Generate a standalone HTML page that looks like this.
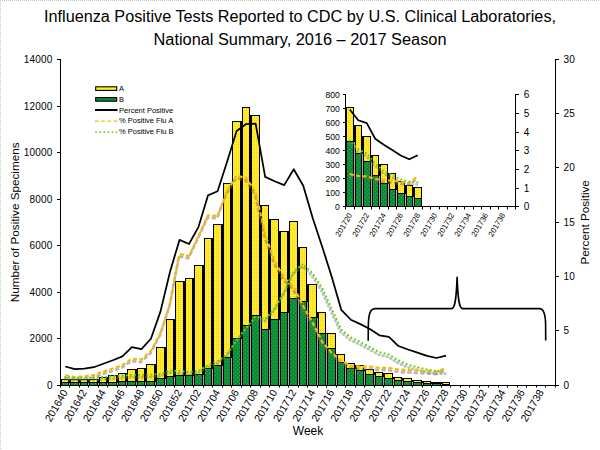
<!DOCTYPE html><html><head><meta charset="utf-8"><style>html,body{margin:0;padding:0;background:#fff;overflow:hidden;}svg{display:block;}text{font-family:"Liberation Sans",sans-serif;fill:#000;}</style></head><body>
<svg width="600" height="450" viewBox="0 0 600 450">
<defs>
<pattern id="py" width="2" height="2" patternUnits="userSpaceOnUse"><rect width="2" height="2" fill="#fff51c"/><rect width="1" height="1" fill="#fbc83e"/><rect x="1" y="1" width="1" height="1" fill="#ffe838"/></pattern>
<pattern id="pg" width="4" height="4" patternUnits="userSpaceOnUse"><rect width="4" height="4" fill="#0d8a36"/><rect x="1" y="1" width="1" height="1" fill="#26c04c"/><rect x="3" y="3" width="1" height="1" fill="#1cb044"/></pattern>
<filter id="sh" x="-10%" y="-10%" width="120%" height="120%"><feGaussianBlur stdDeviation="0.75"/></filter>
</defs>
<rect width="600" height="450" fill="#fff"/>
<line x1="0" y1="0.5" x2="600" y2="0.5" stroke="#c2cac2" stroke-width="1" stroke-dasharray="1 1"/>
<line x1="0.5" y1="0" x2="0.5" y2="450" stroke="#c2cac2" stroke-width="1" stroke-dasharray="1 1"/>
<text x="300" y="21.7" font-size="16" text-anchor="middle" textLength="512" lengthAdjust="spacingAndGlyphs">Influenza Positive Tests Reported to CDC by U.S. Clinical Laboratories,</text>
<text x="300" y="44.6" font-size="16" text-anchor="middle" textLength="293" lengthAdjust="spacingAndGlyphs">National Summary, 2016 – 2017 Season</text>
<g shape-rendering="crispEdges"><rect x="61" y="379" width="8" height="6" fill="#000"/><rect x="62" y="380" width="6" height="2" fill="url(#py)"/><rect x="62" y="383" width="6" height="2" fill="url(#pg)"/><rect x="70" y="379" width="9" height="6" fill="#000"/><rect x="71" y="380" width="7" height="2" fill="url(#py)"/><rect x="71" y="383" width="7" height="2" fill="url(#pg)"/><rect x="69" y="379" width="1" height="6" fill="#000"/><rect x="69" y="383" width="1" height="2" fill="#aaa2ae"/><rect x="80" y="379" width="8" height="6" fill="#000"/><rect x="81" y="380" width="6" height="2" fill="url(#py)"/><rect x="81" y="383" width="6" height="2" fill="url(#pg)"/><rect x="79" y="379" width="1" height="6" fill="#000"/><rect x="79" y="383" width="1" height="2" fill="#aaa2ae"/><rect x="89" y="379" width="9" height="6" fill="#000"/><rect x="90" y="380" width="7" height="2" fill="url(#py)"/><rect x="90" y="383" width="7" height="2" fill="url(#pg)"/><rect x="88" y="379" width="1" height="6" fill="#000"/><rect x="88" y="383" width="1" height="2" fill="#aaa2ae"/><rect x="99" y="377" width="8" height="8" fill="#000"/><rect x="100" y="378" width="6" height="4" fill="url(#py)"/><rect x="100" y="383" width="6" height="2" fill="url(#pg)"/><rect x="98" y="379" width="1" height="6" fill="#000"/><rect x="98" y="383" width="1" height="2" fill="#aaa2ae"/><rect x="108" y="375" width="9" height="10" fill="#000"/><rect x="109" y="376" width="7" height="6" fill="url(#py)"/><rect x="109" y="383" width="7" height="2" fill="url(#pg)"/><rect x="107" y="377" width="1" height="8" fill="#000"/><rect x="107" y="383" width="1" height="2" fill="#aaa2ae"/><rect x="118" y="373" width="8" height="12" fill="#000"/><rect x="119" y="374" width="6" height="7" fill="url(#py)"/><rect x="119" y="382" width="6" height="3" fill="url(#pg)"/><rect x="117" y="375" width="1" height="10" fill="#000"/><rect x="117" y="383" width="1" height="2" fill="#aaa2ae"/><rect x="127" y="369" width="9" height="16" fill="#000"/><rect x="128" y="370" width="7" height="11" fill="url(#py)"/><rect x="128" y="382" width="7" height="3" fill="url(#pg)"/><rect x="126" y="373" width="1" height="12" fill="#000"/><rect x="126" y="382" width="1" height="3" fill="#aaa2ae"/><rect x="137" y="368" width="8" height="17" fill="#000"/><rect x="138" y="369" width="6" height="12" fill="url(#py)"/><rect x="138" y="382" width="6" height="3" fill="url(#pg)"/><rect x="136" y="369" width="1" height="16" fill="#000"/><rect x="136" y="382" width="1" height="3" fill="#aaa2ae"/><rect x="146" y="364" width="9" height="21" fill="#000"/><rect x="147" y="365" width="7" height="16" fill="url(#py)"/><rect x="147" y="382" width="7" height="3" fill="url(#pg)"/><rect x="145" y="368" width="1" height="17" fill="#000"/><rect x="145" y="382" width="1" height="3" fill="#aaa2ae"/><rect x="156" y="347" width="9" height="38" fill="#000"/><rect x="157" y="348" width="7" height="30" fill="url(#py)"/><rect x="157" y="379" width="7" height="6" fill="url(#pg)"/><rect x="155" y="364" width="1" height="21" fill="#000"/><rect x="155" y="382" width="1" height="3" fill="#aaa2ae"/><rect x="166" y="319" width="8" height="66" fill="#000"/><rect x="167" y="320" width="6" height="56" fill="url(#py)"/><rect x="167" y="377" width="6" height="8" fill="url(#pg)"/><rect x="165" y="347" width="1" height="38" fill="#000"/><rect x="165" y="379" width="1" height="6" fill="#aaa2ae"/><rect x="175" y="281" width="9" height="104" fill="#000"/><rect x="176" y="282" width="7" height="93" fill="url(#py)"/><rect x="176" y="376" width="7" height="9" fill="url(#pg)"/><rect x="174" y="319" width="1" height="66" fill="#000"/><rect x="174" y="377" width="1" height="8" fill="#aaa2ae"/><rect x="185" y="278" width="8" height="107" fill="#000"/><rect x="186" y="279" width="6" height="96" fill="url(#py)"/><rect x="186" y="376" width="6" height="9" fill="url(#pg)"/><rect x="184" y="281" width="1" height="104" fill="#000"/><rect x="184" y="376" width="1" height="9" fill="#aaa2ae"/><rect x="194" y="265" width="9" height="120" fill="#000"/><rect x="195" y="266" width="7" height="108" fill="url(#py)"/><rect x="195" y="375" width="7" height="10" fill="url(#pg)"/><rect x="193" y="278" width="1" height="107" fill="#000"/><rect x="193" y="376" width="1" height="9" fill="#aaa2ae"/><rect x="204" y="238" width="8" height="147" fill="#000"/><rect x="205" y="239" width="6" height="129" fill="url(#py)"/><rect x="205" y="369" width="6" height="16" fill="url(#pg)"/><rect x="203" y="265" width="1" height="120" fill="#000"/><rect x="203" y="375" width="1" height="10" fill="#aaa2ae"/><rect x="213" y="224" width="9" height="161" fill="#000"/><rect x="214" y="225" width="7" height="140" fill="url(#py)"/><rect x="214" y="366" width="7" height="19" fill="url(#pg)"/><rect x="212" y="238" width="1" height="147" fill="#000"/><rect x="212" y="369" width="1" height="16" fill="#aaa2ae"/><rect x="223" y="183" width="8" height="202" fill="#000"/><rect x="224" y="184" width="6" height="173" fill="url(#py)"/><rect x="224" y="358" width="6" height="27" fill="url(#pg)"/><rect x="222" y="224" width="1" height="161" fill="#000"/><rect x="222" y="366" width="1" height="19" fill="#aaa2ae"/><rect x="232" y="121" width="9" height="264" fill="#000"/><rect x="233" y="122" width="7" height="216" fill="url(#py)"/><rect x="233" y="339" width="7" height="46" fill="url(#pg)"/><rect x="231" y="183" width="1" height="202" fill="#000"/><rect x="231" y="358" width="1" height="27" fill="#aaa2ae"/><rect x="242" y="107" width="8" height="278" fill="#000"/><rect x="243" y="108" width="6" height="217" fill="url(#py)"/><rect x="243" y="326" width="6" height="59" fill="url(#pg)"/><rect x="241" y="121" width="1" height="264" fill="#000"/><rect x="241" y="339" width="1" height="46" fill="#aaa2ae"/><rect x="251" y="115" width="9" height="270" fill="#000"/><rect x="252" y="116" width="7" height="199" fill="url(#py)"/><rect x="252" y="316" width="7" height="69" fill="url(#pg)"/><rect x="250" y="115" width="1" height="270" fill="#000"/><rect x="250" y="326" width="1" height="59" fill="#aaa2ae"/><rect x="261" y="205" width="8" height="180" fill="#000"/><rect x="262" y="206" width="6" height="123" fill="url(#py)"/><rect x="262" y="330" width="6" height="55" fill="url(#pg)"/><rect x="260" y="205" width="1" height="180" fill="#000"/><rect x="260" y="316" width="1" height="69" fill="#aaa2ae"/><rect x="270" y="219" width="9" height="166" fill="#000"/><rect x="271" y="220" width="7" height="99" fill="url(#py)"/><rect x="271" y="320" width="7" height="65" fill="url(#pg)"/><rect x="269" y="219" width="1" height="166" fill="#000"/><rect x="269" y="330" width="1" height="55" fill="#aaa2ae"/><rect x="280" y="231" width="8" height="154" fill="#000"/><rect x="281" y="232" width="6" height="80" fill="url(#py)"/><rect x="281" y="313" width="6" height="72" fill="url(#pg)"/><rect x="279" y="231" width="1" height="154" fill="#000"/><rect x="279" y="320" width="1" height="65" fill="#aaa2ae"/><rect x="289" y="221" width="9" height="164" fill="#000"/><rect x="290" y="222" width="7" height="76" fill="url(#py)"/><rect x="290" y="299" width="7" height="86" fill="url(#pg)"/><rect x="288" y="231" width="1" height="154" fill="#000"/><rect x="288" y="313" width="1" height="72" fill="#aaa2ae"/><rect x="299" y="247" width="8" height="138" fill="#000"/><rect x="300" y="248" width="6" height="53" fill="url(#py)"/><rect x="300" y="302" width="6" height="83" fill="url(#pg)"/><rect x="298" y="247" width="1" height="138" fill="#000"/><rect x="298" y="299" width="1" height="86" fill="#aaa2ae"/><rect x="308" y="284" width="9" height="101" fill="#000"/><rect x="309" y="285" width="7" height="32" fill="url(#py)"/><rect x="309" y="318" width="7" height="67" fill="url(#pg)"/><rect x="307" y="284" width="1" height="101" fill="#000"/><rect x="307" y="302" width="1" height="83" fill="#aaa2ae"/><rect x="318" y="312" width="8" height="73" fill="#000"/><rect x="319" y="313" width="6" height="20" fill="url(#py)"/><rect x="319" y="334" width="6" height="51" fill="url(#pg)"/><rect x="317" y="312" width="1" height="73" fill="#000"/><rect x="317" y="318" width="1" height="67" fill="#aaa2ae"/><rect x="327" y="333" width="9" height="52" fill="#000"/><rect x="328" y="334" width="7" height="14" fill="url(#py)"/><rect x="328" y="349" width="7" height="36" fill="url(#pg)"/><rect x="326" y="333" width="1" height="52" fill="#000"/><rect x="326" y="334" width="1" height="51" fill="#aaa2ae"/><rect x="337" y="354" width="8" height="31" fill="#000"/><rect x="338" y="355" width="6" height="7" fill="url(#py)"/><rect x="338" y="363" width="6" height="22" fill="url(#pg)"/><rect x="336" y="354" width="1" height="31" fill="#000"/><rect x="336" y="355" width="1" height="30" fill="#aaa2ae"/><rect x="346" y="363" width="9" height="22" fill="#000"/><rect x="347" y="364" width="7" height="4" fill="url(#py)"/><rect x="347" y="369" width="7" height="16" fill="url(#pg)"/><rect x="345" y="363" width="1" height="22" fill="#000"/><rect x="345" y="364" width="1" height="21" fill="#aaa2ae"/><rect x="356" y="365" width="8" height="20" fill="#000"/><rect x="357" y="366" width="6" height="4" fill="url(#py)"/><rect x="357" y="371" width="6" height="14" fill="url(#pg)"/><rect x="355" y="365" width="1" height="20" fill="#000"/><rect x="355" y="369" width="1" height="16" fill="#aaa2ae"/><rect x="365" y="369" width="9" height="16" fill="#000"/><rect x="366" y="370" width="7" height="4" fill="url(#py)"/><rect x="366" y="375" width="7" height="10" fill="url(#pg)"/><rect x="364" y="369" width="1" height="16" fill="#000"/><rect x="364" y="371" width="1" height="14" fill="#aaa2ae"/><rect x="375" y="372" width="8" height="13" fill="#000"/><rect x="376" y="373" width="6" height="3" fill="url(#py)"/><rect x="376" y="377" width="6" height="8" fill="url(#pg)"/><rect x="374" y="372" width="1" height="13" fill="#000"/><rect x="374" y="375" width="1" height="10" fill="#aaa2ae"/><rect x="384" y="373" width="9" height="12" fill="#000"/><rect x="385" y="374" width="7" height="4" fill="url(#py)"/><rect x="385" y="379" width="7" height="6" fill="url(#pg)"/><rect x="383" y="373" width="1" height="12" fill="#000"/><rect x="383" y="377" width="1" height="8" fill="#aaa2ae"/><rect x="394" y="377" width="8" height="8" fill="#000"/><rect x="395" y="378" width="6" height="2" fill="url(#py)"/><rect x="395" y="381" width="6" height="4" fill="url(#pg)"/><rect x="393" y="377" width="1" height="8" fill="#000"/><rect x="393" y="379" width="1" height="6" fill="#aaa2ae"/><rect x="403" y="378" width="9" height="7" fill="#000"/><rect x="404" y="379" width="7" height="2" fill="url(#py)"/><rect x="404" y="382" width="7" height="3" fill="url(#pg)"/><rect x="402" y="378" width="1" height="7" fill="#000"/><rect x="402" y="381" width="1" height="4" fill="#aaa2ae"/><rect x="413" y="380" width="9" height="5" fill="#000"/><rect x="414" y="381" width="7" height="1" fill="url(#py)"/><rect x="414" y="383" width="7" height="2" fill="url(#pg)"/><rect x="412" y="380" width="1" height="5" fill="#000"/><rect x="412" y="382" width="1" height="3" fill="#aaa2ae"/><rect x="423" y="381" width="8" height="4" fill="#000"/><rect x="424" y="382" width="6" height="1" fill="url(#py)"/><rect x="424" y="384" width="6" height="1" fill="url(#pg)"/><rect x="422" y="381" width="1" height="4" fill="#000"/><rect x="422" y="383" width="1" height="2" fill="#aaa2ae"/><rect x="432" y="382" width="9" height="3" fill="#000"/><rect x="433" y="384" width="7" height="1" fill="url(#pg)"/><rect x="431" y="382" width="1" height="3" fill="#000"/><rect x="431" y="384" width="1" height="1" fill="#aaa2ae"/><rect x="442" y="382" width="8" height="3" fill="#000"/><rect x="443" y="383" width="6" height="1" fill="url(#py)"/><rect x="443" y="385" width="6" height="0" fill="url(#pg)"/><rect x="441" y="382" width="1" height="3" fill="#000"/><rect x="441" y="384" width="1" height="1" fill="#aaa2ae"/></g>
<polyline points="65.26,375.18 74.78,377.02 84.30,376.37 93.82,375.18 103.34,371.59 112.86,368.55 122.38,365.18 131.89,358.77 141.41,359.64 150.93,350.94 160.45,333.34 169.97,304.00 179.49,254.01 189.01,255.97 198.53,235.97 208.05,215.33 217.57,215.98 227.09,190.99 236.61,175.77 246.13,177.95 255.64,192.07 265.16,234.45 274.68,261.29 284.20,277.92 293.72,286.94 303.24,306.17 312.76,323.02 322.28,342.03 331.80,352.90 341.32,361.05 350.84,365.61 360.36,366.70 369.88,366.59 379.39,367.79 388.91,367.90 398.43,369.53 407.95,370.07 417.47,370.50 426.99,371.16 436.51,371.70 446.03,367.90" fill="none" stroke="#6c6c7a" stroke-width="2.6" stroke-dasharray="4.2 2.3" transform="translate(-0.6,2.4)" filter="url(#sh)" opacity="0.5"/>
<polyline points="65.26,377.02 74.78,378.00 84.30,377.68 93.82,377.46 103.34,377.02 112.86,376.26 122.38,375.83 131.89,374.74 141.41,374.96 150.93,374.52 160.45,373.98 169.97,370.40 179.49,371.05 189.01,372.03 198.53,370.72 208.05,365.18 217.57,361.38 227.09,354.20 236.61,340.08 246.13,327.91 255.64,316.50 265.16,319.32 274.68,308.35 284.20,292.05 293.72,271.40 303.24,264.01 312.76,273.57 322.28,288.24 331.80,309.00 341.32,329.54 350.84,337.47 360.36,342.03 369.88,347.03 379.39,352.14 388.91,354.53 398.43,360.29 407.95,364.85 417.47,367.24 426.99,369.63 436.51,371.16 446.03,371.37" fill="none" stroke="#727280" stroke-width="2.8" stroke-linecap="round" stroke-dasharray="0.6 3.5" transform="translate(-0.8,2.4)" filter="url(#sh)" opacity="0.45"/>
<polyline points="65.26,366.48 74.78,369.20 84.30,368.55 93.82,367.24 103.34,363.77 112.86,360.29 122.38,356.38 131.89,347.14 141.41,349.21 150.93,338.77 160.45,311.61 169.97,271.94 179.49,239.89 189.01,244.02 198.53,226.85 208.05,195.33 217.57,191.31 227.09,161.65 236.61,131.00 246.13,124.05 255.64,123.61 265.16,176.86 274.68,181.21 284.20,185.12 293.72,169.25 303.24,185.77 312.76,218.15 322.28,246.95 331.80,277.05 341.32,309.98 350.84,319.76 360.36,324.10 369.88,328.99 379.39,335.30 388.91,336.93 398.43,346.05 407.95,349.53 417.47,352.57 426.99,355.83 436.51,358.01 446.03,355.62" fill="none" stroke="#000" stroke-width="1.75" stroke-linejoin="round"/>
<polyline points="65.26,375.18 74.78,377.02 84.30,376.37 93.82,375.18 103.34,371.59 112.86,368.55 122.38,365.18 131.89,358.77 141.41,359.64 150.93,350.94 160.45,333.34 169.97,304.00 179.49,254.01 189.01,255.97 198.53,235.97 208.05,215.33 217.57,215.98 227.09,190.99 236.61,175.77 246.13,177.95 255.64,192.07 265.16,234.45 274.68,261.29 284.20,277.92 293.72,286.94 303.24,306.17 312.76,323.02 322.28,342.03 331.80,352.90 341.32,361.05 350.84,365.61 360.36,366.70 369.88,366.59 379.39,367.79 388.91,367.90 398.43,369.53 407.95,370.07 417.47,370.50 426.99,371.16 436.51,371.70 446.03,367.90" fill="none" stroke="#f7b900" stroke-width="2.2" stroke-dasharray="4.2 2.3"/>
<polyline points="65.26,377.02 74.78,378.00 84.30,377.68 93.82,377.46 103.34,377.02 112.86,376.26 122.38,375.83 131.89,374.74 141.41,374.96 150.93,374.52 160.45,373.98 169.97,370.40 179.49,371.05 189.01,372.03 198.53,370.72 208.05,365.18 217.57,361.38 227.09,354.20 236.61,340.08 246.13,327.91 255.64,316.50 265.16,319.32 274.68,308.35 284.20,292.05 293.72,271.40 303.24,264.01 312.76,273.57 322.28,288.24 331.80,309.00 341.32,329.54 350.84,337.47 360.36,342.03 369.88,347.03 379.39,352.14 388.91,354.53 398.43,360.29 407.95,364.85 417.47,367.24 426.99,369.63 436.51,371.16 446.03,371.37" fill="none" stroke="#5cd80a" stroke-width="2.2" stroke-linecap="round" stroke-dasharray="0.01 4.1"/>
<line x1="60.5" y1="59" x2="60.5" y2="386" stroke="#000" stroke-width="1"/><line x1="555.5" y1="59" x2="555.5" y2="386" stroke="#000" stroke-width="1"/><line x1="60.0" y1="385.5" x2="556.0" y2="385.5" stroke="#000" stroke-width="1.2"/><line x1="57" y1="385.5" x2="60.5" y2="385.5" stroke="#000" stroke-width="1"/><text x="52.7" y="389.1" font-size="10" letter-spacing="0.25" text-anchor="end">0</text><line x1="57" y1="338.5" x2="60.5" y2="338.5" stroke="#000" stroke-width="1"/><text x="52.7" y="342.1" font-size="10" letter-spacing="0.25" text-anchor="end">2000</text><line x1="57" y1="292.5" x2="60.5" y2="292.5" stroke="#000" stroke-width="1"/><text x="52.7" y="296.1" font-size="10" letter-spacing="0.25" text-anchor="end">4000</text><line x1="57" y1="245.5" x2="60.5" y2="245.5" stroke="#000" stroke-width="1"/><text x="52.7" y="249.1" font-size="10" letter-spacing="0.25" text-anchor="end">6000</text><line x1="57" y1="199.5" x2="60.5" y2="199.5" stroke="#000" stroke-width="1"/><text x="52.7" y="203.1" font-size="10" letter-spacing="0.25" text-anchor="end">8000</text><line x1="57" y1="152.5" x2="60.5" y2="152.5" stroke="#000" stroke-width="1"/><text x="52.7" y="156.1" font-size="10" letter-spacing="0.25" text-anchor="end">10000</text><line x1="57" y1="106.5" x2="60.5" y2="106.5" stroke="#000" stroke-width="1"/><text x="52.7" y="110.1" font-size="10" letter-spacing="0.25" text-anchor="end">12000</text><line x1="57" y1="59.5" x2="60.5" y2="59.5" stroke="#000" stroke-width="1"/><text x="52.7" y="63.1" font-size="10" letter-spacing="0.25" text-anchor="end">14000</text><line x1="555.5" y1="385.5" x2="559" y2="385.5" stroke="#000" stroke-width="1"/><text x="563.4" y="389.1" font-size="10" letter-spacing="0.3">0</text><line x1="555.5" y1="330.5" x2="559" y2="330.5" stroke="#000" stroke-width="1"/><text x="563.4" y="334.1" font-size="10" letter-spacing="0.3">5</text><line x1="555.5" y1="276.5" x2="559" y2="276.5" stroke="#000" stroke-width="1"/><text x="563.4" y="280.1" font-size="10" letter-spacing="0.3">10</text><line x1="555.5" y1="222.5" x2="559" y2="222.5" stroke="#000" stroke-width="1"/><text x="563.4" y="226.1" font-size="10" letter-spacing="0.3">15</text><line x1="555.5" y1="167.5" x2="559" y2="167.5" stroke="#000" stroke-width="1"/><text x="563.4" y="171.1" font-size="10" letter-spacing="0.3">20</text><line x1="555.5" y1="113.5" x2="559" y2="113.5" stroke="#000" stroke-width="1"/><text x="563.4" y="117.1" font-size="10" letter-spacing="0.3">25</text><line x1="555.5" y1="59.5" x2="559" y2="59.5" stroke="#000" stroke-width="1"/><text x="563.4" y="63.1" font-size="10" letter-spacing="0.3">30</text><line x1="60.5" y1="385.5" x2="60.5" y2="387.6" stroke="#000" stroke-width="1"/><line x1="69.5" y1="385.5" x2="69.5" y2="387.6" stroke="#000" stroke-width="1"/><line x1="79.5" y1="385.5" x2="79.5" y2="387.6" stroke="#000" stroke-width="1"/><line x1="88.5" y1="385.5" x2="88.5" y2="387.6" stroke="#000" stroke-width="1"/><line x1="98.5" y1="385.5" x2="98.5" y2="387.6" stroke="#000" stroke-width="1"/><line x1="107.5" y1="385.5" x2="107.5" y2="387.6" stroke="#000" stroke-width="1"/><line x1="117.5" y1="385.5" x2="117.5" y2="387.6" stroke="#000" stroke-width="1"/><line x1="126.5" y1="385.5" x2="126.5" y2="387.6" stroke="#000" stroke-width="1"/><line x1="136.5" y1="385.5" x2="136.5" y2="387.6" stroke="#000" stroke-width="1"/><line x1="145.5" y1="385.5" x2="145.5" y2="387.6" stroke="#000" stroke-width="1"/><line x1="155.5" y1="385.5" x2="155.5" y2="387.6" stroke="#000" stroke-width="1"/><line x1="165.5" y1="385.5" x2="165.5" y2="387.6" stroke="#000" stroke-width="1"/><line x1="174.5" y1="385.5" x2="174.5" y2="387.6" stroke="#000" stroke-width="1"/><line x1="184.5" y1="385.5" x2="184.5" y2="387.6" stroke="#000" stroke-width="1"/><line x1="193.5" y1="385.5" x2="193.5" y2="387.6" stroke="#000" stroke-width="1"/><line x1="203.5" y1="385.5" x2="203.5" y2="387.6" stroke="#000" stroke-width="1"/><line x1="212.5" y1="385.5" x2="212.5" y2="387.6" stroke="#000" stroke-width="1"/><line x1="222.5" y1="385.5" x2="222.5" y2="387.6" stroke="#000" stroke-width="1"/><line x1="231.5" y1="385.5" x2="231.5" y2="387.6" stroke="#000" stroke-width="1"/><line x1="241.5" y1="385.5" x2="241.5" y2="387.6" stroke="#000" stroke-width="1"/><line x1="250.5" y1="385.5" x2="250.5" y2="387.6" stroke="#000" stroke-width="1"/><line x1="260.5" y1="385.5" x2="260.5" y2="387.6" stroke="#000" stroke-width="1"/><line x1="269.5" y1="385.5" x2="269.5" y2="387.6" stroke="#000" stroke-width="1"/><line x1="279.5" y1="385.5" x2="279.5" y2="387.6" stroke="#000" stroke-width="1"/><line x1="288.5" y1="385.5" x2="288.5" y2="387.6" stroke="#000" stroke-width="1"/><line x1="298.5" y1="385.5" x2="298.5" y2="387.6" stroke="#000" stroke-width="1"/><line x1="307.5" y1="385.5" x2="307.5" y2="387.6" stroke="#000" stroke-width="1"/><line x1="317.5" y1="385.5" x2="317.5" y2="387.6" stroke="#000" stroke-width="1"/><line x1="326.5" y1="385.5" x2="326.5" y2="387.6" stroke="#000" stroke-width="1"/><line x1="336.5" y1="385.5" x2="336.5" y2="387.6" stroke="#000" stroke-width="1"/><line x1="345.5" y1="385.5" x2="345.5" y2="387.6" stroke="#000" stroke-width="1"/><line x1="355.5" y1="385.5" x2="355.5" y2="387.6" stroke="#000" stroke-width="1"/><line x1="364.5" y1="385.5" x2="364.5" y2="387.6" stroke="#000" stroke-width="1"/><line x1="374.5" y1="385.5" x2="374.5" y2="387.6" stroke="#000" stroke-width="1"/><line x1="383.5" y1="385.5" x2="383.5" y2="387.6" stroke="#000" stroke-width="1"/><line x1="393.5" y1="385.5" x2="393.5" y2="387.6" stroke="#000" stroke-width="1"/><line x1="402.5" y1="385.5" x2="402.5" y2="387.6" stroke="#000" stroke-width="1"/><line x1="412.5" y1="385.5" x2="412.5" y2="387.6" stroke="#000" stroke-width="1"/><line x1="422.5" y1="385.5" x2="422.5" y2="387.6" stroke="#000" stroke-width="1"/><line x1="431.5" y1="385.5" x2="431.5" y2="387.6" stroke="#000" stroke-width="1"/><line x1="441.5" y1="385.5" x2="441.5" y2="387.6" stroke="#000" stroke-width="1"/><line x1="450.5" y1="385.5" x2="450.5" y2="387.6" stroke="#000" stroke-width="1"/><line x1="460.5" y1="385.5" x2="460.5" y2="387.6" stroke="#000" stroke-width="1"/><line x1="469.5" y1="385.5" x2="469.5" y2="387.6" stroke="#000" stroke-width="1"/><line x1="479.5" y1="385.5" x2="479.5" y2="387.6" stroke="#000" stroke-width="1"/><line x1="488.5" y1="385.5" x2="488.5" y2="387.6" stroke="#000" stroke-width="1"/><line x1="498.5" y1="385.5" x2="498.5" y2="387.6" stroke="#000" stroke-width="1"/><line x1="507.5" y1="385.5" x2="507.5" y2="387.6" stroke="#000" stroke-width="1"/><line x1="517.5" y1="385.5" x2="517.5" y2="387.6" stroke="#000" stroke-width="1"/><line x1="526.5" y1="385.5" x2="526.5" y2="387.6" stroke="#000" stroke-width="1"/><line x1="536.5" y1="385.5" x2="536.5" y2="387.6" stroke="#000" stroke-width="1"/><line x1="545.5" y1="385.5" x2="545.5" y2="387.6" stroke="#000" stroke-width="1"/><line x1="555.5" y1="385.5" x2="555.5" y2="387.6" stroke="#000" stroke-width="1"/><text font-size="10.5" text-anchor="end" transform="translate(68.16,392.2) rotate(-60)">201640</text><text font-size="10.5" text-anchor="end" transform="translate(87.20,392.2) rotate(-60)">201642</text><text font-size="10.5" text-anchor="end" transform="translate(106.24,392.2) rotate(-60)">201644</text><text font-size="10.5" text-anchor="end" transform="translate(125.28,392.2) rotate(-60)">201646</text><text font-size="10.5" text-anchor="end" transform="translate(144.31,392.2) rotate(-60)">201648</text><text font-size="10.5" text-anchor="end" transform="translate(163.35,392.2) rotate(-60)">201650</text><text font-size="10.5" text-anchor="end" transform="translate(182.39,392.2) rotate(-60)">201652</text><text font-size="10.5" text-anchor="end" transform="translate(201.43,392.2) rotate(-60)">201702</text><text font-size="10.5" text-anchor="end" transform="translate(220.47,392.2) rotate(-60)">201704</text><text font-size="10.5" text-anchor="end" transform="translate(239.51,392.2) rotate(-60)">201706</text><text font-size="10.5" text-anchor="end" transform="translate(258.54,392.2) rotate(-60)">201708</text><text font-size="10.5" text-anchor="end" transform="translate(277.58,392.2) rotate(-60)">201710</text><text font-size="10.5" text-anchor="end" transform="translate(296.62,392.2) rotate(-60)">201712</text><text font-size="10.5" text-anchor="end" transform="translate(315.66,392.2) rotate(-60)">201714</text><text font-size="10.5" text-anchor="end" transform="translate(334.70,392.2) rotate(-60)">201716</text><text font-size="10.5" text-anchor="end" transform="translate(353.74,392.2) rotate(-60)">201718</text><text font-size="10.5" text-anchor="end" transform="translate(372.77,392.2) rotate(-60)">201720</text><text font-size="10.5" text-anchor="end" transform="translate(391.81,392.2) rotate(-60)">201722</text><text font-size="10.5" text-anchor="end" transform="translate(410.85,392.2) rotate(-60)">201724</text><text font-size="10.5" text-anchor="end" transform="translate(429.89,392.2) rotate(-60)">201726</text><text font-size="10.5" text-anchor="end" transform="translate(448.93,392.2) rotate(-60)">201728</text><text font-size="10.5" text-anchor="end" transform="translate(467.97,392.2) rotate(-60)">201730</text><text font-size="10.5" text-anchor="end" transform="translate(487.01,392.2) rotate(-60)">201732</text><text font-size="10.5" text-anchor="end" transform="translate(506.04,392.2) rotate(-60)">201734</text><text font-size="10.5" text-anchor="end" transform="translate(525.08,392.2) rotate(-60)">201736</text><text font-size="10.5" text-anchor="end" transform="translate(544.12,392.2) rotate(-60)">201738</text>
<text font-size="11.7" text-anchor="middle" transform="translate(18.9,222.4) rotate(-90)">Number of Positive Specimens</text>
<text font-size="11.7" text-anchor="middle" transform="translate(588.8,222.4) rotate(-90)">Percent Positive</text>
<text x="308" y="435" font-size="12" text-anchor="middle">Week</text>
<rect x="95.7" y="86.8" width="21" height="3.6" fill="#fff21a" stroke="#000" stroke-width="1.1"/><rect x="95.7" y="97.6" width="21" height="3.6" fill="#108a38" stroke="#000" stroke-width="1.1"/><line x1="95" y1="110" x2="117.5" y2="110" stroke="#000" stroke-width="2"/><line x1="94.8" y1="121.2" x2="118" y2="121.2" stroke="#f7b900" stroke-width="1.3" stroke-dasharray="3.8 2.5"/><line x1="96" y1="132.2" x2="117.5" y2="132.2" stroke="#5cd80a" stroke-width="1.8" stroke-linecap="round" stroke-dasharray="0.01 4.1"/><text x="119" y="90.7" font-size="7.5">A</text><text x="119" y="101.5" font-size="7.5">B</text><text x="119" y="112.6" font-size="7.5">Percent Positive</text><text x="119" y="123.4" font-size="7.5">% Positive Flu A</text><text x="119" y="134.3" font-size="7.5">% Positive Flu B</text>
<g shape-rendering="crispEdges"><rect x="346" y="107" width="8" height="99" fill="#000"/><rect x="347" y="108" width="6" height="33" fill="url(#py)"/><rect x="347" y="142" width="6" height="64" fill="url(#pg)"/><rect x="355" y="125" width="7" height="81" fill="#000"/><rect x="356" y="126" width="5" height="27" fill="url(#py)"/><rect x="356" y="154" width="5" height="52" fill="url(#pg)"/><rect x="354" y="125" width="1" height="81" fill="#000"/><rect x="354" y="142" width="1" height="64" fill="#b0a8b4"/><rect x="363" y="136" width="8" height="70" fill="#000"/><rect x="364" y="137" width="6" height="24" fill="url(#py)"/><rect x="364" y="162" width="6" height="44" fill="url(#pg)"/><rect x="362" y="136" width="1" height="70" fill="#000"/><rect x="362" y="154" width="1" height="52" fill="#b0a8b4"/><rect x="372" y="155" width="7" height="51" fill="#000"/><rect x="373" y="156" width="5" height="19" fill="url(#py)"/><rect x="373" y="176" width="5" height="30" fill="url(#pg)"/><rect x="371" y="155" width="1" height="51" fill="#000"/><rect x="371" y="162" width="1" height="44" fill="#b0a8b4"/><rect x="380" y="164" width="8" height="42" fill="#000"/><rect x="381" y="165" width="6" height="18" fill="url(#py)"/><rect x="381" y="184" width="6" height="22" fill="url(#pg)"/><rect x="379" y="164" width="1" height="42" fill="#000"/><rect x="379" y="176" width="1" height="30" fill="#b0a8b4"/><rect x="389" y="173" width="7" height="33" fill="#000"/><rect x="390" y="174" width="5" height="15" fill="url(#py)"/><rect x="390" y="190" width="5" height="16" fill="url(#pg)"/><rect x="388" y="173" width="1" height="33" fill="#000"/><rect x="388" y="184" width="1" height="22" fill="#b0a8b4"/><rect x="397" y="181" width="8" height="25" fill="#000"/><rect x="398" y="182" width="6" height="11" fill="url(#py)"/><rect x="398" y="194" width="6" height="12" fill="url(#pg)"/><rect x="396" y="181" width="1" height="25" fill="#000"/><rect x="396" y="190" width="1" height="16" fill="#b0a8b4"/><rect x="406" y="185" width="7" height="21" fill="#000"/><rect x="407" y="186" width="5" height="10" fill="url(#py)"/><rect x="407" y="197" width="5" height="9" fill="url(#pg)"/><rect x="405" y="185" width="1" height="21" fill="#000"/><rect x="405" y="194" width="1" height="12" fill="#b0a8b4"/><rect x="414" y="187" width="8" height="19" fill="#000"/><rect x="415" y="188" width="6" height="10" fill="url(#py)"/><rect x="415" y="199" width="6" height="7" fill="url(#pg)"/><rect x="413" y="187" width="1" height="19" fill="#000"/><rect x="413" y="197" width="1" height="9" fill="#b0a8b4"/></g><polyline points="349.75,174.02 358.25,176.07 366.75,176.26 375.25,179.06 383.75,179.99 392.25,180.74 400.75,181.86 409.25,182.79 417.75,176.26" fill="none" stroke="#6c6c7a" stroke-width="2.4" stroke-dasharray="4.2 2.3" transform="translate(-0.6,2.2)" filter="url(#sh)" opacity="0.5"/><polyline points="349.75,140.42 358.25,149.19 366.75,153.30 375.25,163.19 383.75,171.03 392.25,175.14 400.75,179.25 409.25,181.86 417.75,182.23" fill="none" stroke="#727280" stroke-width="2.6" stroke-linecap="round" stroke-dasharray="0.6 3.5" transform="translate(-0.8,2.2)" filter="url(#sh)" opacity="0.45"/><polyline points="349.75,109.43 358.25,120.26 366.75,123.06 375.25,138.74 383.75,144.71 392.25,149.94 400.75,155.54 409.25,159.27 417.75,155.17" fill="none" stroke="#000" stroke-width="1.75" stroke-linejoin="round"/><polyline points="349.75,174.02 358.25,176.07 366.75,176.26 375.25,179.06 383.75,179.99 392.25,180.74 400.75,181.86 409.25,182.79 417.75,176.26" fill="none" stroke="#f7b900" stroke-width="2" stroke-dasharray="4.2 2.3"/><polyline points="349.75,140.42 358.25,149.19 366.75,153.30 375.25,163.19 383.75,171.03 392.25,175.14 400.75,179.25 409.25,181.86 417.75,182.23" fill="none" stroke="#5cd80a" stroke-width="2" stroke-linecap="round" stroke-dasharray="0.01 4.1"/><line x1="345.5" y1="94" x2="345.5" y2="207.0" stroke="#000" stroke-width="1"/><line x1="515.5" y1="94" x2="515.5" y2="207.0" stroke="#000" stroke-width="1"/><line x1="345.5" y1="206.5" x2="515.5" y2="206.5" stroke="#000" stroke-width="1"/><line x1="343" y1="206.50" x2="345.5" y2="206.50" stroke="#000" stroke-width="1"/><text x="339.8" y="209.60" font-size="8.6" text-anchor="end">0</text><line x1="343" y1="192.50" x2="345.5" y2="192.50" stroke="#000" stroke-width="1"/><text x="339.8" y="195.60" font-size="8.6" text-anchor="end">100</text><line x1="343" y1="178.50" x2="345.5" y2="178.50" stroke="#000" stroke-width="1"/><text x="339.8" y="181.60" font-size="8.6" text-anchor="end">200</text><line x1="343" y1="164.50" x2="345.5" y2="164.50" stroke="#000" stroke-width="1"/><text x="339.8" y="167.60" font-size="8.6" text-anchor="end">300</text><line x1="343" y1="150.50" x2="345.5" y2="150.50" stroke="#000" stroke-width="1"/><text x="339.8" y="153.60" font-size="8.6" text-anchor="end">400</text><line x1="343" y1="136.50" x2="345.5" y2="136.50" stroke="#000" stroke-width="1"/><text x="339.8" y="139.60" font-size="8.6" text-anchor="end">500</text><line x1="343" y1="122.50" x2="345.5" y2="122.50" stroke="#000" stroke-width="1"/><text x="339.8" y="125.60" font-size="8.6" text-anchor="end">600</text><line x1="343" y1="108.50" x2="345.5" y2="108.50" stroke="#000" stroke-width="1"/><text x="339.8" y="111.60" font-size="8.6" text-anchor="end">700</text><line x1="343" y1="94.50" x2="345.5" y2="94.50" stroke="#000" stroke-width="1"/><text x="339.8" y="97.60" font-size="8.6" text-anchor="end">800</text><line x1="515.5" y1="206.50" x2="519" y2="206.50" stroke="#000" stroke-width="1"/><text x="523.7" y="210.10" font-size="10">0</text><line x1="515.5" y1="188.50" x2="519" y2="188.50" stroke="#000" stroke-width="1"/><text x="523.7" y="192.10" font-size="10">1</text><line x1="515.5" y1="169.50" x2="519" y2="169.50" stroke="#000" stroke-width="1"/><text x="523.7" y="173.10" font-size="10">2</text><line x1="515.5" y1="150.50" x2="519" y2="150.50" stroke="#000" stroke-width="1"/><text x="523.7" y="154.10" font-size="10">3</text><line x1="515.5" y1="132.50" x2="519" y2="132.50" stroke="#000" stroke-width="1"/><text x="523.7" y="136.10" font-size="10">4</text><line x1="515.5" y1="113.50" x2="519" y2="113.50" stroke="#000" stroke-width="1"/><text x="523.7" y="117.10" font-size="10">5</text><line x1="515.5" y1="94.50" x2="519" y2="94.50" stroke="#000" stroke-width="1"/><text x="523.7" y="98.10" font-size="10">6</text><line x1="345.50" y1="206.5" x2="345.50" y2="209.5" stroke="#000" stroke-width="1"/><line x1="354.50" y1="206.5" x2="354.50" y2="209.5" stroke="#000" stroke-width="1"/><line x1="362.50" y1="206.5" x2="362.50" y2="209.5" stroke="#000" stroke-width="1"/><line x1="371.50" y1="206.5" x2="371.50" y2="209.5" stroke="#000" stroke-width="1"/><line x1="379.50" y1="206.5" x2="379.50" y2="209.5" stroke="#000" stroke-width="1"/><line x1="388.50" y1="206.5" x2="388.50" y2="209.5" stroke="#000" stroke-width="1"/><line x1="396.50" y1="206.5" x2="396.50" y2="209.5" stroke="#000" stroke-width="1"/><line x1="405.50" y1="206.5" x2="405.50" y2="209.5" stroke="#000" stroke-width="1"/><line x1="413.50" y1="206.5" x2="413.50" y2="209.5" stroke="#000" stroke-width="1"/><line x1="422.50" y1="206.5" x2="422.50" y2="209.5" stroke="#000" stroke-width="1"/><line x1="430.50" y1="206.5" x2="430.50" y2="209.5" stroke="#000" stroke-width="1"/><line x1="439.50" y1="206.5" x2="439.50" y2="209.5" stroke="#000" stroke-width="1"/><line x1="447.50" y1="206.5" x2="447.50" y2="209.5" stroke="#000" stroke-width="1"/><line x1="456.50" y1="206.5" x2="456.50" y2="209.5" stroke="#000" stroke-width="1"/><line x1="464.50" y1="206.5" x2="464.50" y2="209.5" stroke="#000" stroke-width="1"/><line x1="473.50" y1="206.5" x2="473.50" y2="209.5" stroke="#000" stroke-width="1"/><line x1="481.50" y1="206.5" x2="481.50" y2="209.5" stroke="#000" stroke-width="1"/><line x1="490.50" y1="206.5" x2="490.50" y2="209.5" stroke="#000" stroke-width="1"/><line x1="498.50" y1="206.5" x2="498.50" y2="209.5" stroke="#000" stroke-width="1"/><line x1="507.50" y1="206.5" x2="507.50" y2="209.5" stroke="#000" stroke-width="1"/><line x1="515.50" y1="206.5" x2="515.50" y2="209.5" stroke="#000" stroke-width="1"/><text font-size="7.7" text-anchor="end" transform="translate(352.45,215) rotate(-60)">201720</text><text font-size="7.7" text-anchor="end" transform="translate(369.45,215) rotate(-60)">201722</text><text font-size="7.7" text-anchor="end" transform="translate(386.45,215) rotate(-60)">201724</text><text font-size="7.7" text-anchor="end" transform="translate(403.45,215) rotate(-60)">201726</text><text font-size="7.7" text-anchor="end" transform="translate(420.45,215) rotate(-60)">201728</text><text font-size="7.7" text-anchor="end" transform="translate(437.45,215) rotate(-60)">201730</text><text font-size="7.7" text-anchor="end" transform="translate(454.45,215) rotate(-60)">201732</text><text font-size="7.7" text-anchor="end" transform="translate(471.45,215) rotate(-60)">201734</text><text font-size="7.7" text-anchor="end" transform="translate(488.45,215) rotate(-60)">201736</text><text font-size="7.7" text-anchor="end" transform="translate(505.45,215) rotate(-60)">201738</text>
<path d="M368.2,340.8 L368.3,326 C368.5,314 370,309 375,308.6 L451.5,308.6 C455,308.6 456.3,300 457.1,276.8 C457.9,300 459.2,308.6 462.7,308.6 L539.5,308.6 C544,308.6 545.4,316 545.6,324 L545.7,340.5" fill="none" stroke="#000" stroke-width="1.6"/>
</svg></body></html>
